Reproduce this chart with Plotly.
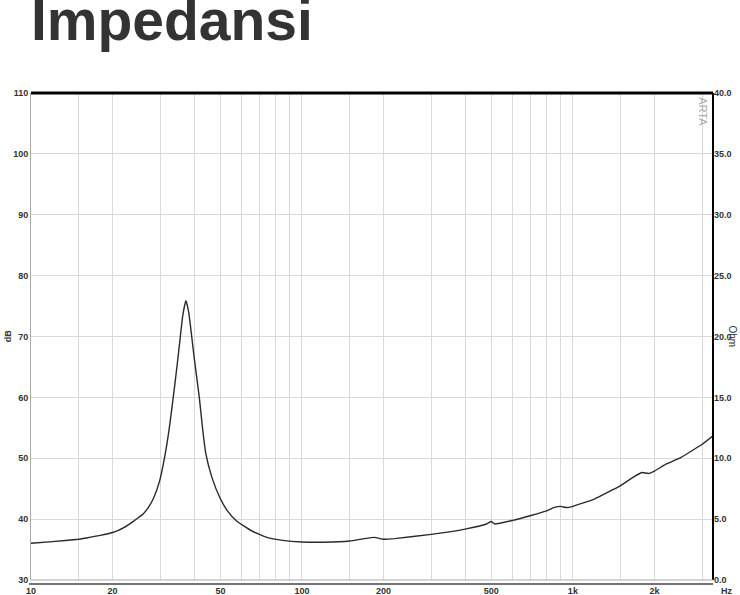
import plotly.graph_objects as go
import numpy as np

# impedance curve (Hz, Ohm)
freq = [10, 12, 15, 16, 18, 20, 21, 22, 23.8, 25, 26, 27, 28.3, 29.8, 31.2, 32.4,
        33.5, 34.6, 35.5, 36.3, 37.3, 38.2, 39.0, 40.0, 41.8, 43.0, 44.2, 46.5,
        49.8, 53, 57.4, 65, 74.1, 85, 100, 120, 150, 170, 185, 200, 220, 300, 400,
        480, 500, 515, 600, 700, 800, 850, 900, 950, 1000, 1200, 1500, 1700, 1800,
        1900, 2000, 2200, 2500, 3000, 3290]
ohm = [3.02, 3.15, 3.35, 3.45, 3.66, 3.9, 4.08, 4.3, 4.8, 5.15, 5.45, 5.9, 6.7, 8.1,
       10.2, 12.5, 15.0, 17.6, 19.8, 21.7, 22.95, 22.0, 20.4, 18.3, 15.0, 12.4,
       10.35, 8.45, 6.75, 5.7, 4.85, 4.05, 3.5, 3.25, 3.12, 3.1, 3.2, 3.4, 3.5, 3.35,
       3.4, 3.75, 4.18, 4.6, 4.8, 4.6, 4.9, 5.3, 5.68, 5.95, 6.05, 5.95, 6.05, 6.65,
       7.75, 8.55, 8.83, 8.75, 8.95, 9.5, 10.05, 11.15, 11.85]

grid_freqs = [10, 15, 20, 30, 40, 50, 60, 70, 80, 90, 100, 150, 200, 300, 400, 500,
              600, 700, 800, 900, 1000, 1500, 2000, 3000]
freq_labels = {10: '10', 20: '20', 50: '50', 100: '100', 200: '200', 500: '500',
               1000: '1k', 2000: '2k'}
db_ticks = [30, 40, 50, 60, 70, 80, 90, 100, 110]
ohm_ticks = [0, 5, 10, 15, 20, 25, 30, 35, 40]

tick_font = dict(family='Liberation Sans', size=9, color='#333', weight='bold')

fig = go.Figure()
# invisible trace so the dB axis (left) gets drawn
fig.add_trace(go.Scatter(x=[10], y=[30], mode='markers', marker=dict(opacity=0),
                         showlegend=False, hoverinfo='skip'))
fig.add_trace(go.Scatter(x=freq, y=ohm, mode='lines', yaxis='y2',
                         line=dict(color='#2a2a2a', width=1.4, shape='spline', smoothing=0.4),
                         showlegend=False, hoverinfo='skip'))

fig.update_layout(
    width=740, height=595,
    margin=dict(l=31, r=27, t=93, b=15),
    paper_bgcolor='white', plot_bgcolor='white',
    xaxis=dict(type='log', range=[1, np.log10(3290)],
               tickvals=grid_freqs,
               ticktext=[freq_labels.get(f, '') for f in grid_freqs],
               showgrid=True, gridcolor='#d9d9d9', gridwidth=1,
               zeroline=False, showline=False, ticks='', automargin=False,
               ticklabelstandoff=4, tickfont=tick_font),
    yaxis=dict(range=[30, 110], tickvals=db_ticks,
               showgrid=True, gridcolor='#d9d9d9', gridwidth=1,
               zeroline=False, showline=True, linecolor='#aaaaaa', linewidth=1,
               ticks='', automargin=False, tickfont=tick_font),
    yaxis2=dict(range=[0, 40], tickvals=ohm_ticks,
                ticktext=['%.1f' % v for v in ohm_ticks],
                overlaying='y', side='right', showgrid=False, zeroline=False,
                showline=False, ticks='', automargin=False, tickfont=tick_font),
)

# frame: thick top and right, dark line below the plot
fig.add_shape(type='line', xref='paper', yref='paper', x0=0, x1=1, y0=1, y1=1,
              line=dict(color='black', width=3))
fig.add_shape(type='line', xref='paper', yref='paper', x0=1, x1=1, y0=0, y1=1,
              line=dict(color='black', width=2))
fig.add_shape(type='line', xref='paper', yref='paper', x0=-0.003, x1=1, y0=-0.008, y1=-0.008,
              line=dict(color='#444', width=1.5))
fig.add_shape(type='line', xref='paper', yref='paper', x0=0, x1=1, y0=0, y1=0,
              line=dict(color='#aaaaaa', width=1))

fig.add_annotation(text='Impedansi', xref='paper', yref='paper', x=-0.003, y=1.081,
                   xanchor='left', yanchor='bottom', showarrow=False,
                   font=dict(family='Liberation Sans', size=57, color='#333', weight='bold'))
fig.add_annotation(text='dB', xref='paper', yref='paper', x=-0.034, y=0.5, textangle=-90,
                   xanchor='center', yanchor='middle', showarrow=False,
                   font=dict(family='Liberation Sans', size=9, color='#333', weight='bold'))
fig.add_annotation(text='Ohm', xref='paper', yref='paper', x=1.028, y=0.5, textangle=90,
                   xanchor='center', yanchor='middle', showarrow=False,
                   font=dict(family='Liberation Sans', size=10, color='#333'))
fig.add_annotation(text='Hz', xref='paper', yref='paper', x=1.021, y=-0.022,
                   xanchor='center', yanchor='middle', showarrow=False,
                   font=dict(family='Liberation Sans', size=9, color='#333', weight='bold'))
fig.add_annotation(text='ARTA', xref='paper', yref='paper', x=0.985, y=0.995, textangle=90,
                   xanchor='center', yanchor='top', showarrow=False,
                   font=dict(family='Liberation Sans', size=11, color='#aaaaaa'))

# the page's default body margin would push the figure 8px right and down
fig.write_html('out.html', config={'displayModeBar': False},
               post_script="document.body.style.margin='0';")
